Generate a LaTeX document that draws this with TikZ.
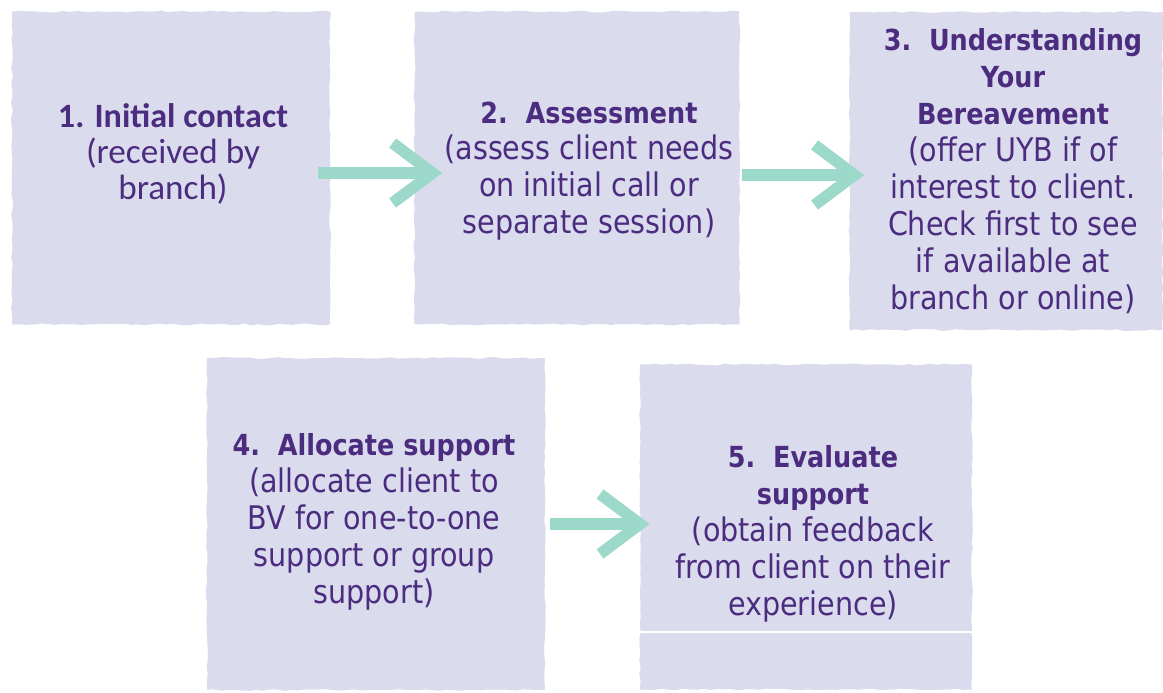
\documentclass[tikz,border=0pt]{standalone}
\usepackage{fontspec}
\setmainfont{Carlito}
\newfontfamily\widesans[FakeStretch=0.88]{DejaVu Sans}
\usetikzlibrary{arrows.meta,decorations.pathmorphing}

\definecolor{boxfill}{HTML}{DADCEE}
\definecolor{ink}{HTML}{4B2C7F}
\definecolor{arrowteal}{HTML}{9DD9CA}

\newcommand\steptitle[1]{{\bfseries\fontsize{16.5}{21}\selectfont #1}}

\begin{document}
\begin{tikzpicture}
    [
        x = 0.02cm, y = -0.02cm,
        box/.style 2 args = {fill = boxfill, inner sep = 0pt,
            minimum width = #1*0.02cm, minimum height = #2*0.02cm,
            decorate, decoration = {random steps, segment length = 4pt, amplitude = 0.5pt}},
        txt/.style = {text = ink, align = center, font = \widesans\fontsize{18.5}{21}\selectfont},
        firsttxt/.style = {text = ink, align = center, font = \fontsize{20}{20.7}\selectfont},
        flow/.style = {draw = arrowteal, line width = 0.23cm,
            -{Straight Barb[length = 8mm, width = 12mm]}}
    ]
        \pgfmathsetseed{7}
        \fill[white] (0,0) rectangle (1163,693);
        \useasboundingbox (0,0) rectangle (1163,693);

        \node[box = {318}{313}] (b1) at (171,168) {};
        \node[box = {325}{313}] (b2) at (577,168) {};
        \node[box = {313}{318}] (b3) at (1006,171) {};
        \node[box = {338}{332}] (b4) at (376,524) {};
        \node[box = {332}{325}] (b5) at (806,527) {};

        \draw[white, line width = 1pt] (b5.west |- 0,632) -- (b5.east |- 0,632);

        \node[firsttxt] (t1) at (173,154) {{\bfseries\fontsize{19.4}{20.7}\selectfont 1. Initial contact}\\ (received by\\ branch)};
        \node[txt] (t2) at (589,171) {\steptitle{2.\ \ Assessment}\\ (assess client needs\\ on initial call or\\ separate session)};
        \node[txt] (t3) at (1013,171) {\steptitle{3.\ \ Understanding}\\ \steptitle{Your}\\ \steptitle{Bereavement}\\ (offer UYB if of\\ interest to client.\\ Check first to see\\ if available at\\ branch or online)};
        \node[txt] (t4) at (374,522) {\steptitle{4.\ \ Allocate support}\\ (allocate client to\\ BV for one-to-one\\ support or group\\ support)};
        \node[txt] (t5) at (813,534) {\steptitle{5.\ \ Evaluate}\\ \steptitle{support}\\ (obtain feedback\\ from client on their\\ experience)};

        \draw[flow, shorten <= -12*0.02cm, shorten >= -28*0.02cm]
            ([yshift = -0.1cm]b1.east) -- ([yshift = -0.1cm]b1.east -| b2.west);
        \draw[flow, shorten <= 2*0.02cm, shorten >= -15*0.02cm]
            ([yshift = -0.14cm]b2.east) -- ([yshift = -0.14cm]b2.east -| b3.west);
        \draw[flow, shorten <= 5*0.02cm, shorten >= -10*0.02cm]
            (b4.east) -- (b4.east -| b5.west);
\end{tikzpicture}
\end{document}
